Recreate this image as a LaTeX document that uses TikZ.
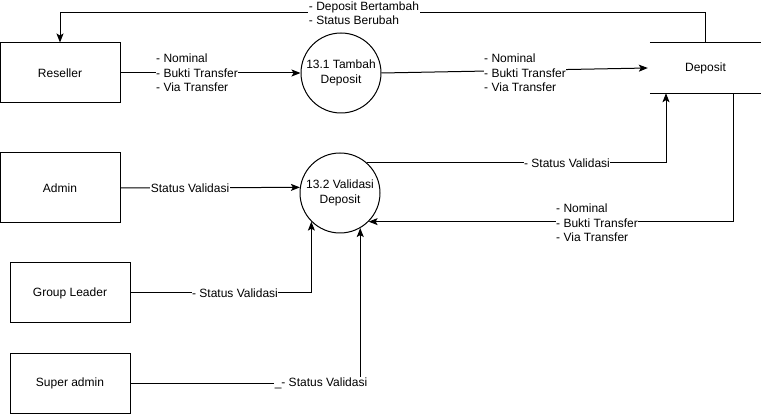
\documentclass[tikz,border=0pt]{standalone}
\usepackage{fontspec}
\setmainfont{Liberation Sans}
\usetikzlibrary{arrows.meta}
\tikzset{
  ent/.style={draw, line width=1pt, minimum width=120pt, minimum height=60pt, inner sep=0pt, font=\fontsize{12}{14.5}\selectfont},
  proc/.style={draw, circle, line width=1pt, minimum size=80pt, inner sep=0pt, align=center, font=\fontsize{12}{14.5}\selectfont},
  store/.style={minimum width=111pt, minimum height=50pt, inner sep=0pt, font=\fontsize{12}{14.5}\selectfont},
  lbl/.style={fill=white, inner sep=0.5pt, align=left, font=\fontsize{12}{14.5}\selectfont},
  conn/.style={line width=1pt, -{Stealth[length=9pt,width=7pt,inset=2pt]}},
  plain/.style={line width=1pt}
}
\begin{document}
\begin{tikzpicture}[x=1pt,y=-1pt]
\useasboundingbox (0,0) rectangle (761,414);
% external entities
\node[ent] (res) at (60,73) {Reseller};
\node[ent, minimum height=70pt] (adm) at (60,188) {Admin};
\node[ent] (gl) at (70,293) {Group Leader};
\node[ent] (sa) at (70,383) {Super admin};
% processes
\node[proc] (p1) at (341,73) {13.1 Tambah\\Deposit};
\node[proc] (p2) at (340,193) {13.2 Validasi\\Deposit};
% data store
\node[store] (dep) at (705.5,68) {Deposit};
\draw[plain] (dep.north west) -- (dep.north east);
\draw[plain] (dep.south west) -- (dep.south east);
% flows
\draw[conn] (dep.north) -- ++(0,-30) -| (res.north);
\node[lbl] (l1) at (364,13) {- Deposit Bertambah\\- Status Berubah};

\draw[conn] (res.east) -- (p1.west);
\node[lbl] (l2) at (197,73) {- Nominal\\- Bukti Transfer\\- Via Transfer};

\draw[conn] (p1.east) -- ([xshift=-2pt]dep.west);
\node[lbl] (l3) at (525,73) {- Nominal\\- Bukti Transfer\\- Via Transfer};

\draw[conn] (p2.49) -| ([xshift=-39.5pt]dep.south);
\node[lbl] (l4) at (567,163) {- Status Validasi};

\draw[conn] ([xshift=28pt]dep.south) |- (p2.south east);
\node[lbl] (l5) at (597,223) {- Nominal\\- Bukti Transfer\\- Via Transfer};

\draw[conn] (adm.east) -- (p2.172.8);
\node[lbl] (l6) at (190,188) {Status Validasi};

\draw[conn] (gl.east) -| (p2.south west);
\node[lbl] (l7) at (235,293) {- Status Validasi};

\draw[conn] (sa.east) -| (p2.-60);
\node[lbl] (l8) at (321,383) {\_- Status Validasi};
\end{tikzpicture}
\end{document}
